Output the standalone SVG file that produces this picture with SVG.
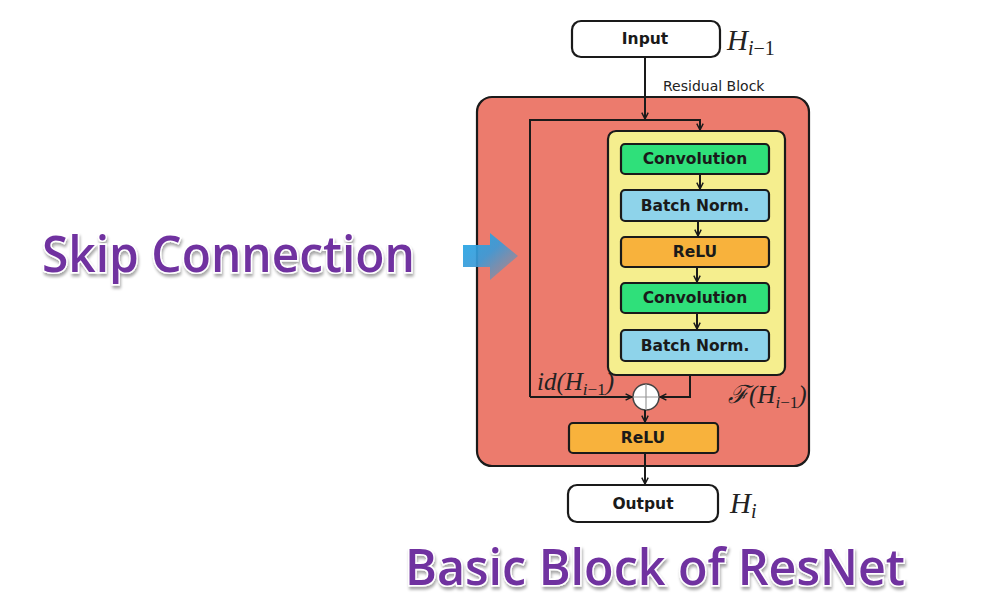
<svg xmlns="http://www.w3.org/2000/svg" width="1007" height="608" viewBox="0 0 1007 608">
<defs>
<style>
.box{stroke:#1a1a1a;stroke-width:2.2}
.lbl{font-family:"DejaVu Sans",sans-serif;font-weight:bold;font-size:15.5px;fill:#1a1a1a;text-anchor:middle;dominant-baseline:central}
.math{font-family:"Liberation Serif","DejaVu Serif",serif;font-style:italic;fill:#222}
.wire{fill:none;stroke:#1a1a1a;stroke-width:2}
.big{font-family:"Open Sans","Noto Sans",sans-serif;font-weight:600;font-size:50px;fill:#7030a0;stroke:#ffffff;stroke-width:3;paint-order:stroke;filter:url(#sh)}
</style>
<marker id="ah" viewBox="0 0 10 10" refX="9" refY="5" markerWidth="8" markerHeight="8" orient="auto" markerUnits="userSpaceOnUse">
<path d="M1,1 L9,5 L1,9" fill="none" stroke="#1a1a1a" stroke-width="1.8"/>
</marker>
<linearGradient id="bg" x1="0" y1="0" x2="1" y2="1">
<stop offset="0" stop-color="#1fa8e8"/>
<stop offset="0.45" stop-color="#3a9ad8"/>
<stop offset="1" stop-color="#c88078"/>
</linearGradient>
<filter id="sh" x="-5%" y="-20%" width="110%" height="150%">
<feGaussianBlur in="SourceAlpha" stdDeviation="1.5"/>
<feOffset dx="1" dy="3" result="b"/>
<feComponentTransfer in="b" result="c"><feFuncA type="linear" slope="0.35"/></feComponentTransfer>
<feMerge><feMergeNode in="c"/><feMergeNode in="SourceGraphic"/></feMerge>
</filter>
</defs>
<rect width="1007" height="608" fill="#ffffff"/>

<g id="residual-block">
<rect x="477" y="97" width="332" height="369" rx="15" fill="#ec7b6d" class="box"/>
<text x="663" y="91" font-family="DejaVu Sans,sans-serif" font-size="14" fill="#222">Residual Block</text>
</g>
<g id="f-block">
<rect x="608" y="131" width="177" height="244" rx="8" fill="#f5ee8e" class="box"/>
</g>

<g id="input">
<rect x="572" y="21" width="148" height="36" rx="9" fill="#fff" class="box"/>
<text x="645" y="39" class="lbl">Input</text>
<text x="727" y="50" class="math" font-size="29">H<tspan font-size="20" dy="5">i</tspan><tspan font-size="20" font-style="normal">−1</tspan></text>
</g>

<g id="conv1"><rect x="621" y="144" width="148" height="30" rx="4" fill="#2fe07a" class="box"/><text x="695" y="159" class="lbl">Convolution</text></g>
<g id="bn1"><rect x="621" y="190" width="148" height="31" rx="4" fill="#8ed3ea" class="box"/><text x="695" y="206" class="lbl">Batch Norm.</text></g>
<g id="relu1"><rect x="621" y="237" width="148" height="30" rx="4" fill="#f8b23c" class="box"/><text x="695" y="252" class="lbl">ReLU</text></g>
<g id="conv2"><rect x="621" y="283" width="148" height="30" rx="4" fill="#2fe07a" class="box"/><text x="695" y="298" class="lbl">Convolution</text></g>
<g id="bn2"><rect x="621" y="330" width="148" height="31" rx="4" fill="#8ed3ea" class="box"/><text x="695" y="346" class="lbl">Batch Norm.</text></g>

<g id="add">
<circle cx="646" cy="397" r="13" fill="#fff" stroke="#444" stroke-width="1.5"/>
<path d="M633,397 H659 M646,384 V410" stroke="#999" stroke-width="1.2"/>
</g>
<g id="relu2"><rect x="569" y="423" width="149" height="30" rx="4" fill="#f8b23c" class="box"/><text x="643" y="438" class="lbl">ReLU</text></g>

<g id="output">
<rect x="568" y="485" width="150" height="37" rx="9" fill="#fff" class="box"/>
<text x="643" y="504" class="lbl">Output</text>
<text x="730" y="513" class="math" font-size="29">H<tspan font-size="20" dy="5">i</tspan></text>
</g>

<g id="math-labels">
<text x="537" y="390" class="math" font-size="25" fill="#5a2828">id(H<tspan font-size="17" dy="5">i</tspan><tspan font-size="17" font-style="normal">−1</tspan><tspan dy="-5">)</tspan></text>
<text x="728" y="403" class="math" font-size="25" fill="#5a2828">ℱ(H<tspan font-size="17" dy="5">i</tspan><tspan font-size="17" font-style="normal">−1</tspan><tspan dy="-5">)</tspan></text>
</g>

<g id="connectors">
<path d="M645,57 V119" class="wire" marker-end="url(#ah)"/>
<path d="M530,397 V120 H700 V130" class="wire" marker-end="url(#ah)"/>
<path d="M700,174 V189" class="wire" marker-end="url(#ah)"/>
<path d="M698,221 V236" class="wire" marker-end="url(#ah)"/>
<path d="M697,267 V282" class="wire" marker-end="url(#ah)"/>
<path d="M697,313 V329" class="wire" marker-end="url(#ah)"/>
<path d="M530,397 H632" class="wire" marker-end="url(#ah)"/>
<path d="M690,375 V397 H660" class="wire" marker-end="url(#ah)"/>
<path d="M645,410 V422" class="wire" marker-end="url(#ah)"/>
<path d="M645,453 V484" class="wire" marker-end="url(#ah)"/>
</g>

<g id="skip-arrow">
<path d="M463,245 H490 V233 L518,256 L490,280 V267 H463 Z" fill="url(#bg)" opacity="0.92"/>
</g>

<g id="titles">
<text x="42" y="272" class="big" textLength="373" lengthAdjust="spacingAndGlyphs">Skip Connection</text>
<text x="405" y="585" class="big" textLength="500" lengthAdjust="spacingAndGlyphs">Basic Block of ResNet</text>
</g>
</svg>
